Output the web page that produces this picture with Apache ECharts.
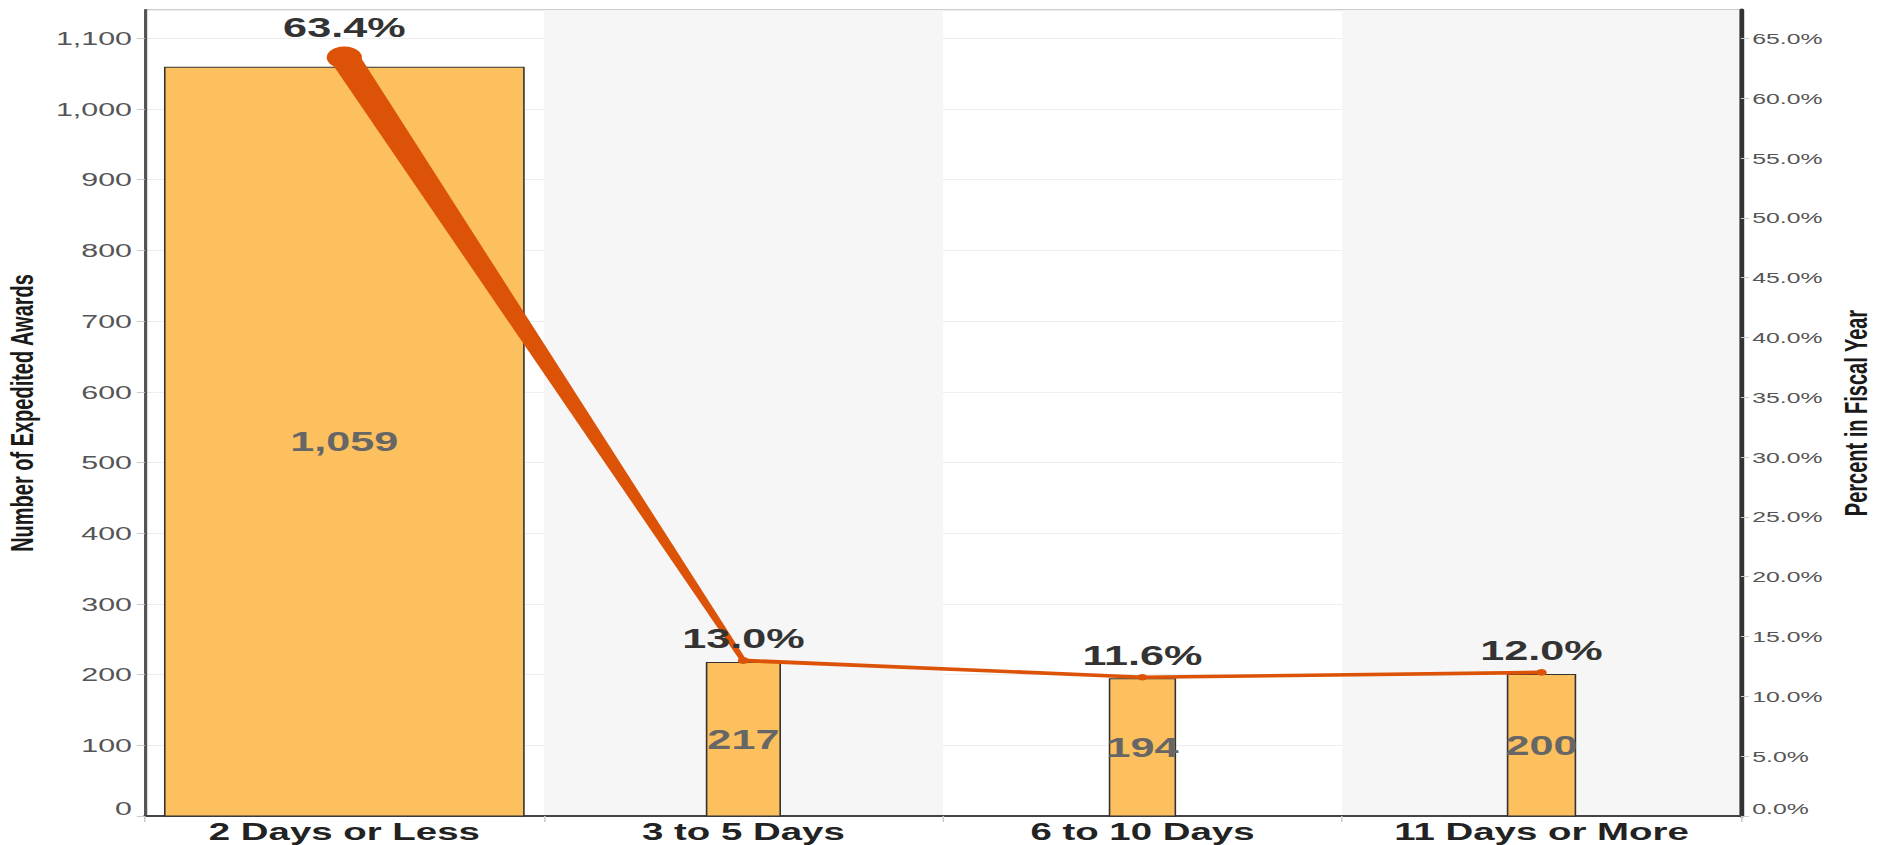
<!DOCTYPE html>
<html>
<head>
<meta charset="utf-8">
<script src="https://cdn.jsdelivr.net/npm/echarts@6/dist/echarts.min.js"></script>
<style>
  html, body { margin: 0; padding: 0; background: #fff; overflow: hidden; }
  #wrap { width: 1877px; height: 845px; overflow: hidden; }
  #chart { width: 1173px; height: 845px; transform: scaleX(1.6002); transform-origin: 0 0; }
</style>
</head>
<body>
<div id="wrap"><div id="chart"></div></div>
<script>
// ---- data ----
const categories = ['2 Days or Less', '3 to 5 Days', '6 to 10 Days', '11 Days or More'];
const awardCounts = [1059, 217, 194, 200];
const percentInYear = [63.4, 13.0, 11.6, 12.0];
const countTicks = { min: 0, max: 1140, interval: 100 };
const percentTicks = { min: 0, max: 65 * 1140 / 1100, interval: 5 };

const FONT = "'Liberation Sans', Arial, Helvetica, sans-serif";
const BAR_COLOR = '#FDC05E';
const LINE_COLOR = '#DC5308';
const maxCount = Math.max.apply(null, awardCounts);
const sizePerPct = 19 / Math.max.apply(null, percentInYear);

const barData = awardCounts.map((v, i) => [i, v]);
const segData = percentInYear.slice(0, -1).map((v, i) => [i, v, i + 1, percentInYear[i + 1]]);

const chart = echarts.init(document.getElementById('chart'), null, { renderer: 'svg' });

const option = {
  backgroundColor: '#fff',
  animation: false,
  grid: {
    left: 90.5, right: 85, top: 10, bottom: 29,
    outerBoundsMode: 'none', containLabel: false,
    show: true, borderColor: '#9a9a9a', borderWidth: 1, backgroundColor: 'transparent'
  },
  xAxis: {
    type: 'category',
    data: categories,
    boundaryGap: true,
    axisLine: { lineStyle: { color: '#444', width: 2 } },
    axisTick: { show: true, length: 6, lineStyle: { color: '#ccc' } },
    axisLabel: { fontFamily: FONT, fontSize: 24, fontWeight: 'bold', color: '#222', margin: 4 },
    splitArea: { show: true, areaStyle: { color: ['rgba(255,255,255,0)', '#f6f6f6'] } },
    splitLine: { show: false }
  },
  yAxis: [
    {
      type: 'value',
      min: countTicks.min, max: countTicks.max, interval: countTicks.interval,
      name: 'Number of Expedited Awards',
      nameLocation: 'middle', nameGap: 66, nameRotate: 90,
      nameTextStyle: { fontFamily: FONT, fontSize: 20, fontWeight: 'bold', color: '#1a1a1a' },
      axisLine: { show: true, lineStyle: { color: '#555', width: 2 } },
      axisTick: { show: true, length: 5, lineStyle: { color: '#ccc' } },
      axisLabel: {
        fontFamily: FONT, fontSize: 19, color: '#555', margin: 8, showMaxLabel: false,
        formatter: v => v === 0 ? '{min|0}' : v.toLocaleString('en-US'),
        rich: { min: { fontFamily: FONT, fontSize: 19, color: '#555', padding: [0, 0, 16, 0] } }
      },
      splitLine: { show: true, lineStyle: { color: '#eeeeee', width: 1 } }
    },
    {
      type: 'value',
      position: 'right',
      min: percentTicks.min, max: percentTicks.max, interval: percentTicks.interval,
      name: 'Percent in Fiscal Year',
      nameLocation: 'middle', nameGap: 60, nameRotate: 90,
      nameTextStyle: { fontFamily: FONT, fontSize: 20, fontWeight: 'bold', color: '#1a1a1a' },
      axisLine: { show: true, lineStyle: { color: '#333', width: 3 } },
      axisTick: { show: true, length: 5, lineStyle: { color: '#ccc' } },
      axisLabel: {
        fontFamily: FONT, fontSize: 15.5, color: '#555', margin: 7, showMaxLabel: false,
        formatter: v => v === 0 ? '{min|0.0%}' : v.toFixed(1) + '%',
        rich: { min: { fontFamily: FONT, fontSize: 15.5, color: '#555', padding: [0, 0, 16, 0] } }
      },
      splitLine: { show: false }
    }
  ],
  series: [
    {
      type: 'custom',
      name: 'Awards',
      yAxisIndex: 0,
      z: 2,
      encode: { x: 0, y: 1 },
      data: barData,
      renderItem: function (params, api) {
        const x = api.value(0), v = api.value(1);
        const top = api.coord([x, v]);
        const base = api.coord([x, 0]);
        const band = api.size([1, 0])[0];
        const w = band * 0.9 * v / maxCount;
        return {
          type: 'rect',
          shape: { x: top[0] - w / 2, y: top[1], width: w, height: base[1] - top[1] },
          style: { fill: BAR_COLOR, stroke: '#333', lineWidth: 1 },
          textContent: {
            style: { text: v.toLocaleString('en-US'), fontFamily: FONT, fontSize: 27, fontWeight: 'bold', fill: '#666' }
          },
          textConfig: { position: 'inside' }
        };
      }
    },
    {
      type: 'custom',
      name: 'PercentLine',
      yAxisIndex: 1,
      z: 3,
      encode: { x: [0, 2], y: [1, 3] },
      data: segData,
      renderItem: function (params, api) {
        const p1 = api.coord([api.value(0), api.value(1)]);
        const p2 = api.coord([api.value(2), api.value(3)]);
        const w1 = sizePerPct * api.value(1);
        const w2 = sizePerPct * api.value(3);
        const dx = p2[0] - p1[0], dy = p2[1] - p1[1];
        const len = Math.sqrt(dx * dx + dy * dy) || 1;
        const nx = -dy / len, ny = dx / len;
        return {
          type: 'polygon',
          shape: {
            points: [
              [p1[0] + nx * w1 / 2, p1[1] + ny * w1 / 2],
              [p2[0] + nx * w2 / 2, p2[1] + ny * w2 / 2],
              [p2[0] - nx * w2 / 2, p2[1] - ny * w2 / 2],
              [p1[0] - nx * w1 / 2, p1[1] - ny * w1 / 2]
            ]
          },
          style: { fill: LINE_COLOR }
        };
      }
    },
    {
      type: 'scatter',
      name: 'Percent',
      yAxisIndex: 1,
      z: 4,
      data: percentInYear,
      symbol: 'circle',
      symbolSize: v => sizePerPct * v + 3,
      itemStyle: { color: LINE_COLOR, opacity: 1 },
      label: {
        show: true, position: 'top', distance: 5,
        fontFamily: FONT, fontSize: 27, fontWeight: 'bold', color: '#333',
        formatter: p => p.value.toFixed(1) + '%'
      }
    }
  ]
};
chart.setOption(option);
</script>
</body>
</html>
